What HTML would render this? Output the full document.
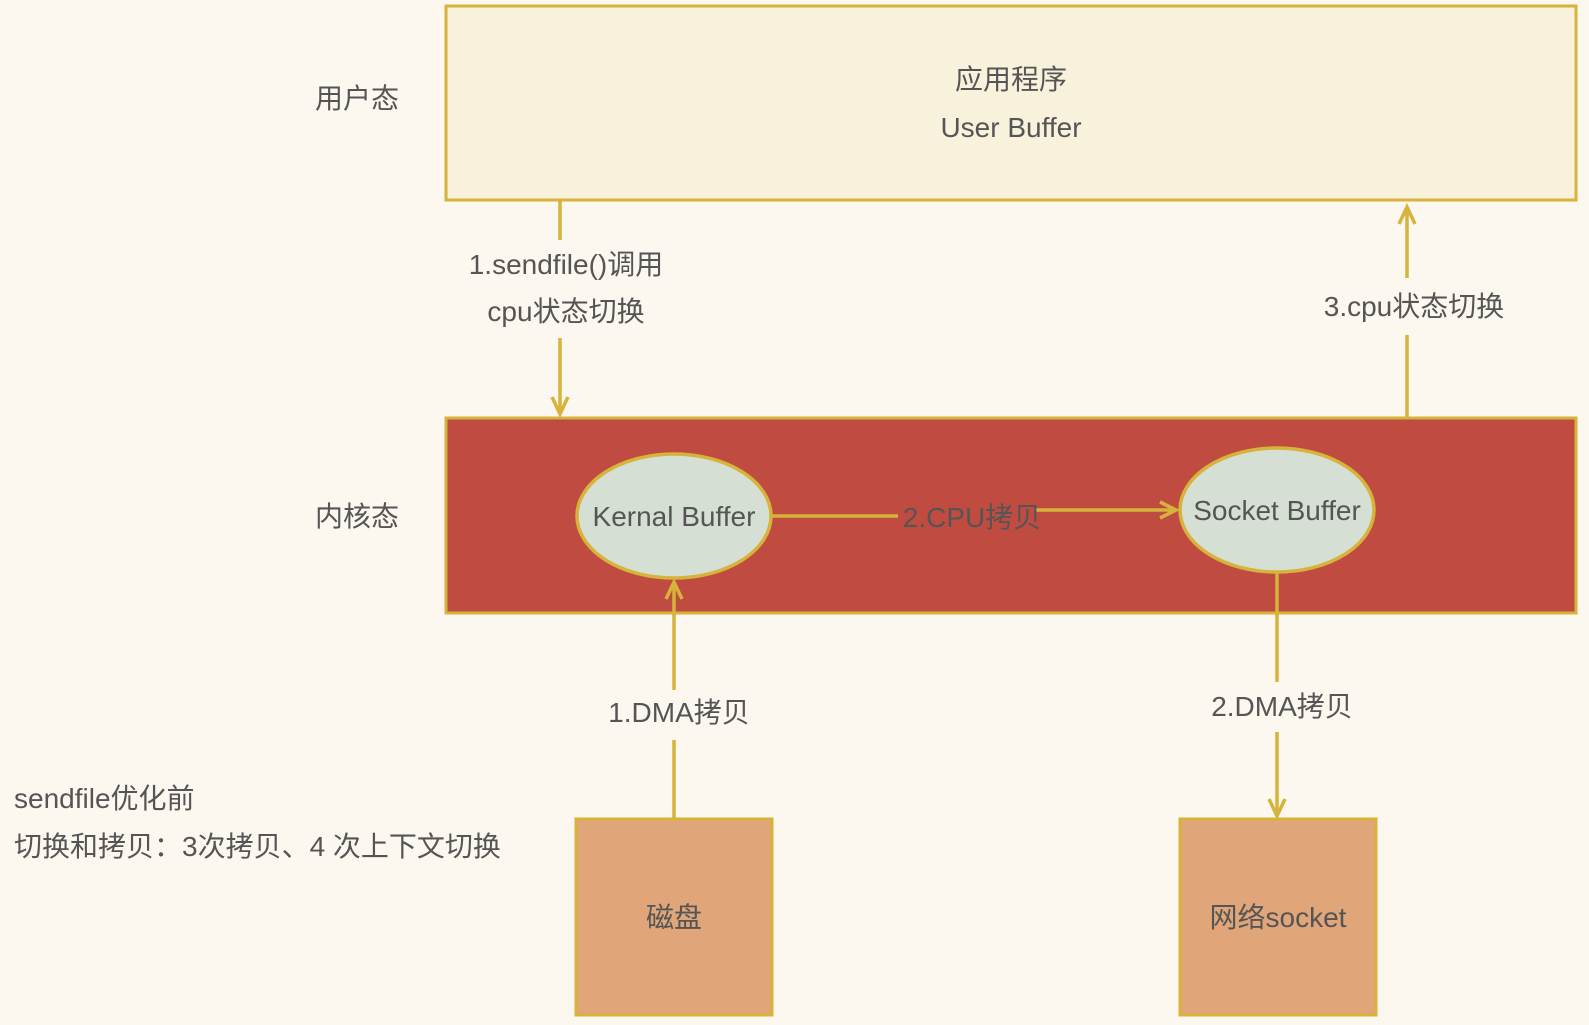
<!DOCTYPE html>
<html><head><meta charset="utf-8"><style>
body{margin:0;background:#fcf8ef;}
svg text{font-family:"Liberation Sans","Noto Sans CJK SC",sans-serif;fill:#555;font-size:28px;}
</style></head><body>
<svg width="1589" height="1020" viewBox="0 0 1589 1020" xmlns="http://www.w3.org/2000/svg">
<rect width="1589" height="1020" fill="#fcf8ef"/>
<rect x="446" y="6" width="1130" height="194" fill="#f8f1dc" stroke="#d6b33a" stroke-width="3"/>
<text x="1011" y="89" text-anchor="middle">应用程序</text>
<text x="1011" y="137" text-anchor="middle">User Buffer</text>
<rect x="446" y="418" width="1130" height="195" fill="#c04b40" stroke="#d6b33a" stroke-width="3"/>
<text x="357" y="108" text-anchor="middle">用户态</text>
<text x="357" y="526" text-anchor="middle">内核态</text>
<g stroke="#d6b33a" stroke-width="3.5" fill="none">
<line x1="560" y1="200" x2="560" y2="240"/><line x1="560" y1="338" x2="560" y2="414"/>
<polyline points="552,397 560,414 568,397"/>
<line x1="1407" y1="417" x2="1407" y2="335"/><line x1="1407" y1="278" x2="1407" y2="207"/>
<polyline points="1399,224 1407,207 1415,224"/>
<line x1="772" y1="516" x2="898" y2="516"/><line x1="1035" y1="510" x2="1176" y2="510"/>
<polyline points="1160,502 1176,510 1160,518"/>
<line x1="674" y1="818" x2="674" y2="740"/><line x1="674" y1="690" x2="674" y2="582"/>
<polyline points="666,599 674,582 682,599"/>
<line x1="1277" y1="573" x2="1277" y2="682"/><line x1="1277" y1="732" x2="1277" y2="816"/>
<polyline points="1269,799 1277,816 1285,799"/>
</g>
<ellipse cx="674" cy="516" rx="97" ry="62" fill="#d5dfd3" stroke="#d6b33a" stroke-width="3.5"/>
<ellipse cx="1277" cy="510" rx="97" ry="62" fill="#d5dfd3" stroke="#d6b33a" stroke-width="3.5"/>
<text x="674" y="526" text-anchor="middle">Kernal Buffer</text>
<text x="1277" y="520" text-anchor="middle">Socket Buffer</text>
<text x="972" y="527" text-anchor="middle">2.CPU拷贝</text>
<text x="566" y="274" text-anchor="middle">1.sendfile()调用</text>
<text x="566" y="321" text-anchor="middle">cpu状态切换</text>
<text x="1414" y="316" text-anchor="middle">3.cpu状态切换</text>
<text x="679" y="722" text-anchor="middle">1.DMA拷贝</text>
<text x="1282" y="716" text-anchor="middle">2.DMA拷贝</text>
<text x="14" y="808">sendfile优化前</text>
<text x="14" y="856">切换和拷贝：3次拷贝、4 次上下文切换</text>
<rect x="576" y="819" width="196" height="196" fill="#e0a679" stroke="#d6b33a" stroke-width="3"/>
<rect x="1180" y="819" width="196" height="196" fill="#e0a679" stroke="#d6b33a" stroke-width="3"/>
<text x="674" y="927" text-anchor="middle">磁盘</text>
<text x="1278" y="927" text-anchor="middle">网络socket</text>
</svg>
</body></html>
